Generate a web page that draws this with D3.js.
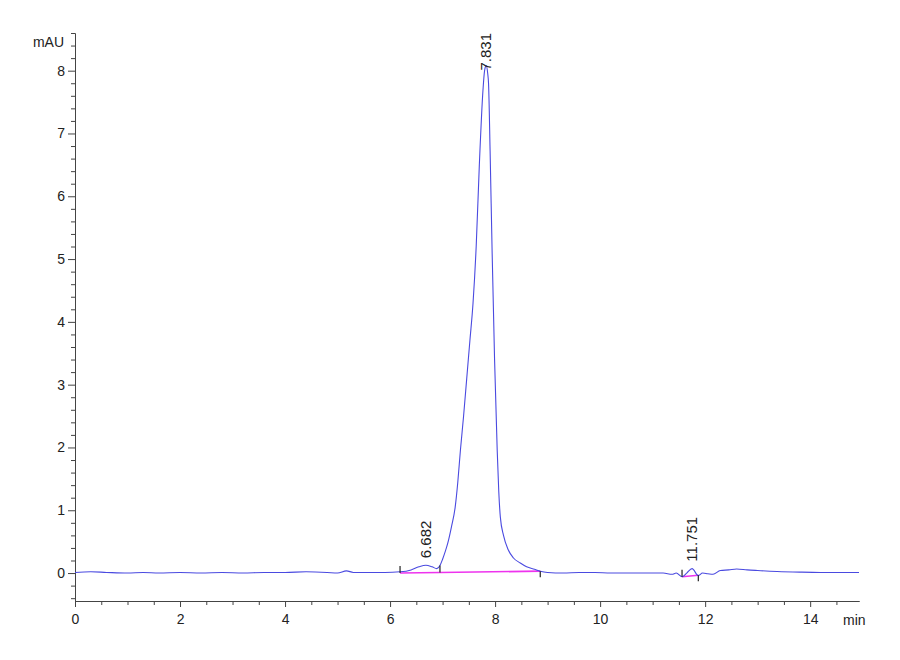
<!DOCTYPE html>
<html>
<head>
<meta charset="utf-8">
<script src="https://cdn.jsdelivr.net/npm/d3@7"></script>
<style>
  body { margin: 0; background: #fff; }
  svg { display: block; }
  .axis text { font-family: "Liberation Sans Narrow", "Liberation Sans", Arial, sans-serif; font-size: 14px; fill: #222; }
  .axis path, .axis line { stroke: #444; stroke-width: 1; }
</style>
</head>
<body>
<svg id="chart" width="900" height="660"></svg>
<script>
// ---- data ----
const traceTime = [0, 0.3, 0.6, 1.0, 1.3, 1.6, 2.0, 2.4, 2.8, 3.2, 3.6, 4.0, 4.4, 4.8, 5.0, 5.17, 5.3, 5.6, 5.9,
  6.19, 6.4, 6.55, 6.682, 6.8, 6.89, 6.95, 7.0, 7.05, 7.10, 7.17, 7.24, 7.29, 7.34, 7.40, 7.46, 7.52, 7.58, 7.64, 7.70, 7.77, 7.80, 7.831,
  7.86, 7.875, 7.905, 7.943, 7.99, 8.04, 8.07, 8.10, 8.16, 8.25, 8.35, 8.48, 8.6, 8.75, 8.86, 9.0, 9.3, 9.6, 9.9, 10.2,
  10.6, 11.0, 11.2, 11.37, 11.45, 11.56, 11.65, 11.751, 11.87, 11.95, 12.05, 12.15, 12.29, 12.45, 12.6, 12.8, 13.0,
  13.37, 13.8, 14.2, 14.6, 14.93];
const traceMAU = [0.01, 0.02, 0.01, 0.0, 0.01, 0.0, 0.01, 0.0, 0.01, 0.0, 0.01, 0.01, 0.02, 0.01, 0.0, 0.035, 0.01, 0.01, 0.01,
  0.02, 0.05, 0.1, 0.125, 0.1, 0.07, 0.12, 0.22, 0.34, 0.48, 0.74, 1.05, 1.45, 1.96, 2.5, 3.1, 3.7, 4.3, 5.2, 6.5, 7.7, 8.0, 8.08,
  7.95, 7.8, 6.72, 5.13, 3.4, 1.96, 1.3, 0.89, 0.6, 0.37, 0.24, 0.16, 0.1, 0.06, 0.03, 0.01, 0.0, 0.01, 0.01, 0.0,
  0.0, 0.0, 0.0, -0.02, 0.0, -0.06, 0.0, 0.07, -0.04, 0.0, -0.01, -0.02, 0.04, 0.05, 0.065, 0.05, 0.04,
  0.025, 0.015, 0.01, 0.01, 0.01];

const peakTimes = [6.682, 7.831, 11.751];
const peakHeights = [0.125, 8.08, 0.07];
const peakLabels = ["6.682", "7.831", "11.751"];

// integration baselines: start and end points
const baseStartTime = [6.19, 6.95, 11.56];
const baseStartMAU  = [0.0, 0.01, -0.06];
const baseEndTime   = [6.95, 8.86, 11.87];
const baseEndMAU    = [0.01, 0.03, -0.035];

const yMajorTicks = [0, 1, 2, 3, 4, 5, 6, 7, 8];
const xMajorTicks = [0, 2, 4, 6, 8, 10, 12, 14];
const xDomain = [0, 14.93];
const yDomain = [-0.445, 8.6];

// ---- layout ----
const svg = d3.select("#chart");
const mLeft = 75, mRight = 859, mTop = 33, mBottom = 601;

const x = d3.scaleLinear().domain(xDomain).range([mLeft, mRight]);
const y = d3.scaleLinear().domain(yDomain).range([mBottom, mTop]);

// minor ticks
const yMinor = d3.range(-0.4, 8.61, 0.2).map(v => +v.toFixed(1)).filter(v => !yMajorTicks.includes(v));
const xMinor = d3.range(0.5, 14.93, 0.5).map(v => +v.toFixed(1)).filter(v => !xMajorTicks.includes(v));

// y axis
svg.append("g").attr("class", "axis").attr("transform", `translate(${mLeft},0)`)
  .call(d3.axisLeft(y).tickValues(yMinor).tickSize(4).tickSizeOuter(0).tickFormat(""));
svg.append("g").attr("class", "axis").attr("transform", `translate(${mLeft},0)`)
  .call(d3.axisLeft(y).tickValues(yMajorTicks).tickSize(7).tickSizeOuter(0).tickPadding(3).tickFormat(d3.format("d")));

// x axis
svg.append("g").attr("class", "axis").attr("transform", `translate(0,${mBottom})`)
  .call(d3.axisBottom(x).tickValues(xMinor).tickSize(4).tickSizeOuter(0).tickFormat(""));
svg.append("g").attr("class", "axis").attr("transform", `translate(0,${mBottom})`)
  .call(d3.axisBottom(x).tickValues(xMajorTicks).tickSize(6).tickSizeOuter(0).tickPadding(7).tickFormat(d3.format("d")));

// axis unit labels
svg.append("text").attr("x", mLeft - 11).attr("y", mTop + 14).attr("text-anchor", "end")
  .style("font-family", '"Liberation Sans Narrow", "Liberation Sans", Arial, sans-serif')
  .style("font-size", "14px").style("fill", "#222").text("mAU");
svg.append("text").attr("x", mRight - 16).attr("y", mBottom + 24).attr("text-anchor", "start")
  .style("font-family", '"Liberation Sans Narrow", "Liberation Sans", Arial, sans-serif')
  .style("font-size", "14px").style("fill", "#222").text("min");

// integration baselines (magenta)
const baseG = svg.append("g");
baseStartTime.forEach((t0, i) => {
  baseG.append("line")
    .attr("x1", x(t0)).attr("y1", y(baseStartMAU[i]))
    .attr("x2", x(baseEndTime[i])).attr("y2", y(baseEndMAU[i]))
    .attr("stroke", "#ee33ee").attr("stroke-width", 1.6);
});

// trace
const trace = traceTime.map((t, i) => [t, traceMAU[i]]);
svg.append("path").datum(trace)
  .attr("fill", "none").attr("stroke", "#4a4ae0").attr("stroke-width", 1.1)
  .attr("d", d3.line().x(d => x(d[0])).y(d => y(d[1])).curve(d3.curveMonotoneX));

// start / end ticks of integration
const tickG = svg.append("g").attr("stroke", "#222").attr("stroke-width", 1.2);
baseStartTime.forEach((t0, i) => {
  tickG.append("line").attr("x1", x(t0)).attr("x2", x(t0))
    .attr("y1", y(baseStartMAU[i])).attr("y2", y(baseStartMAU[i]) - 7);
});
baseEndTime.forEach((t1, i) => {
  if (baseStartTime.includes(t1)) return;
  tickG.append("line").attr("x1", x(t1)).attr("x2", x(t1))
    .attr("y1", y(baseEndMAU[i])).attr("y2", y(baseEndMAU[i]) + 6);
});

// peak labels (rotated)
peakTimes.forEach((t, i) => {
  const txt = svg.append("text")
    .style("font-family", '"Liberation Sans", Arial, sans-serif')
    .style("font-size", "15px").style("fill", "#222")
    .attr("text-anchor", "start")
    .text(peakLabels[i]);
  const len = txt.node().getComputedTextLength();
  const yb = Math.max(y(peakHeights[i]) - 7, mTop + len);
  txt.attr("transform", `translate(${x(t) + 5},${yb}) rotate(-90)`);
});
</script>
</body>
</html>
